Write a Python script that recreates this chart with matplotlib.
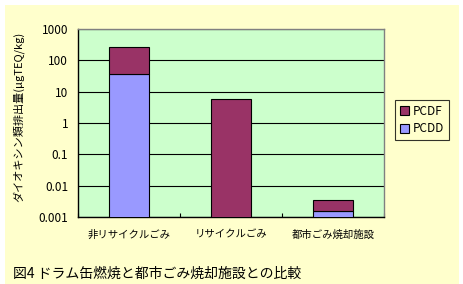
import numpy as np
import matplotlib
matplotlib.use('Agg')
import matplotlib.pyplot as plt
from matplotlib.patches import Patch, Rectangle

plt.rcParams['font.family'] = ['Noto Sans CJK JP', 'DejaVu Sans']

# data (log scale, stacked)
categories = ['非リサイクルごみ', 'リサイクルごみ', '都市ごみ焼却施設']
pcdd = [38.0, 0.0, 0.0015]
pcdf = [222.0, 5.7, 0.0019]
y_ticks = [0.001, 0.01, 0.1, 1, 10, 100, 1000]
y_tick_labels = ['0.001', '0.01', '0.1', '1', '10', '100', '1000']

col_pcdf = '#993366'
col_pcdd = '#9999ff'

fig = plt.figure(figsize=(4.64, 2.84), dpi=100)
fig.patch.set_facecolor('white')
# yellow chart area, behind everything
fig.patches.append(Rectangle((5 / 464, 0), 454 / 464, 279 / 284,
                             transform=fig.transFigure, facecolor='#ffffcc',
                             edgecolor='none', zorder=-10))

ax = fig.add_axes([78 / 464, 67 / 284, 306 / 464, 188 / 284])
ax.set_facecolor('#ccffcc')
ax.set_yscale('log')
ax.set_ylim(0.001, 1000)
ax.set_xlim(-0.5, len(categories) - 0.5)

x = np.arange(len(categories))
width = 0.4
ax.bar(x, pcdd, width, color=col_pcdd, edgecolor='black', linewidth=0.8, zorder=3)
ax.bar(x, pcdf, width, bottom=pcdd, color=col_pcdf, edgecolor='black',
       linewidth=0.8, zorder=3)

ax.set_yticks(y_ticks)
ax.set_yticklabels(y_tick_labels)
ax.yaxis.set_minor_locator(plt.NullLocator())
ax.tick_params(axis='y', length=0, pad=7, labelsize=8.5)
ax.yaxis.grid(True, color='black', linewidth=0.8, zorder=1)
ax.set_axisbelow(True)

ax.set_xticks(x)
ax.set_xticklabels(categories)
ax.set_xticks(np.arange(len(categories) + 1) - 0.5, minor=True)
ax.tick_params(axis='x', which='major', length=0, pad=9, labelsize=7.5)
ax.tick_params(axis='x', which='minor', direction='in', length=3, width=0.8)

for side in ['top', 'right']:
    ax.spines[side].set_color('#808080')
    ax.spines[side].set_linewidth(1.0)
for side in ['left', 'bottom']:
    ax.spines[side].set_color('black')
    ax.spines[side].set_linewidth(1.0)

fig.text(18 / 464, 1 - 117 / 284, 'ダイオキシン類排出量(μgTEQ/kg)', rotation=90,
         ha='center', va='center', fontsize=8)

handles = [Patch(facecolor=col_pcdf, edgecolor='black', linewidth=0.8, label='PCDF'),
           Patch(facecolor=col_pcdd, edgecolor='black', linewidth=0.8, label='PCDD')]
leg = fig.legend(handles=handles, loc='center', bbox_to_anchor=(422 / 464, 1 - 120 / 284),
                 fontsize=8.5, frameon=True, fancybox=False, handlelength=0.8,
                 handleheight=0.8, handletextpad=0.3, borderpad=0.4, labelspacing=0.4)
leg.get_frame().set_edgecolor('black')
leg.get_frame().set_linewidth(0.8)
leg.get_frame().set_facecolor('#ffffcc')

fig.text(13 / 464, 1 - 274 / 284, '図4 ドラム缶燃焼と都市ごみ焼却施設との比較',
         ha='left', va='center', fontsize=10)

fig.savefig('out.png', dpi=100, facecolor=fig.get_facecolor())
